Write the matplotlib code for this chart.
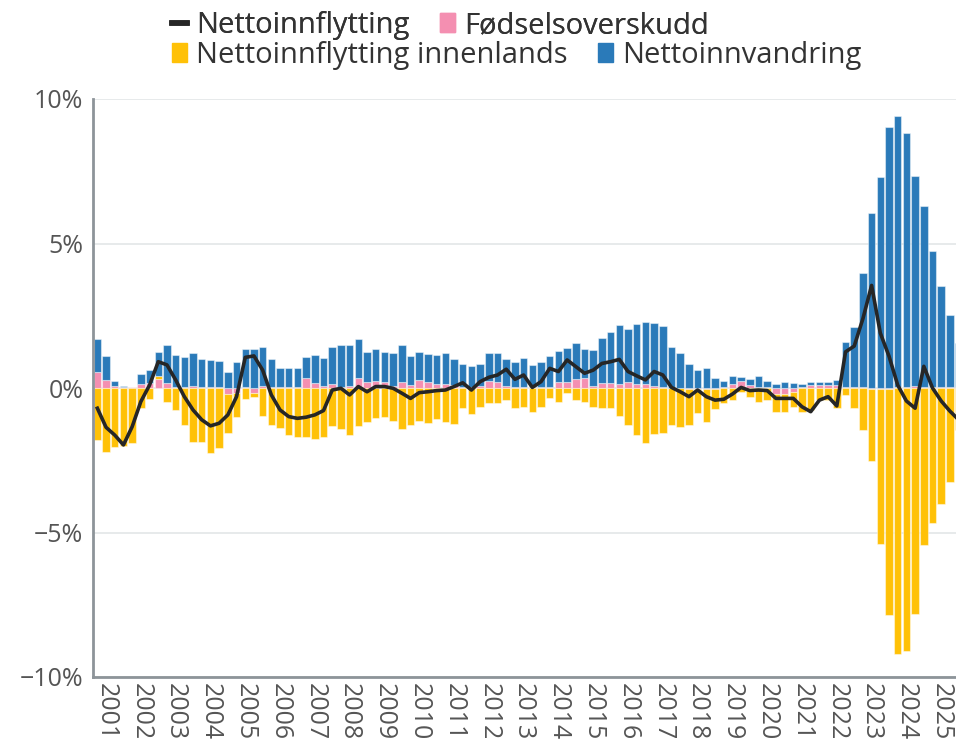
import numpy as np
import matplotlib
matplotlib.use("Agg")
import matplotlib.pyplot as plt
from matplotlib.patches import Patch
from matplotlib.lines import Line2D

plt.rcParams['font.family'] = ['Open Sans', 'DejaVu Sans']

# quarterly values, %
years = list(range(2001, 2026))

fodselsoverskudd = [
    0.57, 0.28, 0.07, 0.05, 0.04, 0.14, 0.16, 0.30, 0.16, 0.05,
    0.05, 0.07, 0.05, 0.05, 0.05, -0.20, -0.18, 0.04, -0.18, 0.07,
    0.05, 0.05, 0.05, 0.05, 0.33, 0.18, 0.08, 0.14, 0.05, 0.07,
    0.33, 0.22, 0.25, 0.22, 0.07, 0.20, 0.10, 0.28, 0.20, 0.14,
    0.14, 0.10, 0.04, 0.04, 0.06, 0.25, 0.22, 0.06, 0.04, 0.02,
    0.02, 0.02, 0.05, 0.22, 0.22, 0.31, 0.33, 0.07, 0.16, 0.18,
    0.14, 0.22, 0.14, 0.14, 0.07, 0.02, 0.01, 0.01, -0.05, -0.05,
    -0.05, -0.03, 0.02, 0.15, 0.25, 0.10, 0.05, 0.02, -0.20, -0.20,
    -0.15, 0.02, 0.10, 0.10, 0.10, 0.10, 0.05, 0.05, 0.02, -0.05,
    -0.05, -0.05, 0.02, 0.05, 0.08, 0.05, 0.03, 0.02, 0.02, 0.02,
]

innenlands = [
    -1.80, -2.20, -2.05, -2.00, -1.90, -0.70, -0.38, 0.12, -0.50, -0.76,
    -1.28, -1.86, -1.86, -2.24, -2.09, -1.37, -0.82, -0.38, -0.14, -0.97,
    -1.28, -1.40, -1.63, -1.71, -1.71, -1.76, -1.71, -1.31, -1.42, -1.63,
    -1.31, -1.16, -1.05, -0.99, -1.14, -1.42, -1.28, -1.13, -1.22, -1.08,
    -1.16, -1.25, -0.70, -0.90, -0.65, -0.53, -0.53, -0.42, -0.70, -0.65,
    -0.82, -0.65, -0.36, -0.47, -0.16, -0.42, -0.47, -0.67, -0.70, -0.70,
    -0.97, -1.28, -1.63, -1.91, -1.59, -1.57, -1.28, -1.34, -1.22, -0.82,
    -1.13, -0.70, -0.53, -0.42, -0.13, -0.30, -0.47, -0.42, -0.62, -0.62,
    -0.50, -0.82, -0.76, -0.42, -0.42, -0.70, -0.24, -0.70, -1.45, -2.48,
    -5.35, -7.80, -9.22, -9.11, -7.83, -5.42, -4.68, -4.01, -3.26, -1.45,
]

innvandring = [
    1.11, 0.83, 0.17, 0.02, 0.01, 0.34, 0.46, 0.81, 1.33, 1.08,
    1.03, 1.13, 0.96, 0.92, 0.88, 0.54, 0.89, 1.30, 1.34, 1.34,
    0.94, 0.63, 0.63, 0.63, 0.73, 0.96, 0.95, 1.29, 1.43, 1.42,
    1.35, 1.01, 1.09, 1.01, 1.13, 1.28, 1.01, 0.98, 0.96, 1.00,
    1.06, 0.89, 0.79, 0.72, 0.77, 0.95, 0.98, 0.94, 0.85, 1.01,
    0.78, 0.89, 1.06, 1.07, 1.18, 1.24, 1.02, 1.24, 1.58, 1.77,
    2.03, 1.81, 2.07, 2.16, 2.17, 2.13, 1.40, 1.19, 0.82, 0.62,
    0.68, 0.33, 0.22, 0.27, 0.12, 0.20, 0.37, 0.22, 0.14, 0.20,
    0.16, 0.12, 0.12, 0.12, 0.12, 0.18, 1.55, 2.07, 3.95, 6.04,
    7.29, 9.02, 9.40, 8.76, 7.26, 6.25, 4.72, 3.51, 2.51, 1.53,
]

nettoinnflytting = [
    -0.70, -1.36, -1.63, -1.97, -1.34, -0.47, 0.10, 0.91, 0.80, 0.28,
    -0.30, -0.76, -1.10, -1.31, -1.22, -0.93, -0.30, 1.06, 1.11, 0.62,
    -0.24, -0.76, -0.99, -1.05, -1.01, -0.93, -0.78, -0.07, -0.01, -0.24,
    0.05, -0.13, 0.05, 0.05, -0.01, -0.18, -0.36, -0.16, -0.13, -0.09,
    -0.07, 0.05, 0.18, -0.07, 0.22, 0.37, 0.45, 0.65, 0.30, 0.45,
    0.02, 0.22, 0.68, 0.57, 0.97, 0.74, 0.51, 0.62, 0.85, 0.91,
    0.99, 0.57, 0.42, 0.28, 0.57, 0.45, 0.02, -0.13, -0.30, -0.07,
    -0.30, -0.42, -0.39, -0.21, 0.02, -0.09, -0.07, -0.09, -0.36, -0.36,
    -0.36, -0.65, -0.82, -0.42, -0.30, -0.62, 1.25, 1.45, 2.40, 3.55,
    1.90, 1.10, 0.10, -0.45, -0.70, 0.75, 0.00, -0.45, -0.80, -1.10,
]

c_pink = '#f48fb1'
c_yellow = '#ffc107'
c_blue = '#2a7ab9'
c_line = '#262626'

x = np.arange(len(innvandring))
pink = np.array(fodselsoverskudd)
yel = np.array(innenlands)
blue = np.array(innvandring)

# relative stacking: positives up, negatives down
pink_pos = np.clip(pink, 0, None)
yel_pos = np.clip(yel, 0, None)
yel_bottom = np.where(yel >= 0, pink_pos, np.clip(pink, None, 0))
blue_bottom = pink_pos + yel_pos

fig = plt.figure(figsize=(9.56, 7.54), dpi=100)
ax = fig.add_axes([93/956, 77/754, 1 - 93/956, (677 - 99)/754])

w = 0.86
edge = (1, 1, 1, 0.45)
ax.bar(x, pink, width=w, color=c_pink, edgecolor=edge, linewidth=0.8, zorder=2)
ax.bar(x, yel, width=w, bottom=yel_bottom, color=c_yellow, edgecolor=edge, linewidth=0.8, zorder=2)
ax.bar(x, blue, width=w, bottom=blue_bottom, color=c_blue, edgecolor=edge, linewidth=0.8, zorder=2)
ax.plot(x, nettoinnflytting, color=c_line, lw=2.6, zorder=4, solid_joinstyle='round')

ax.set_xlim(-0.5, 98.7)
ax.set_ylim(-10, 10)
ax.set_yticks([-10, -5, 0, 5, 10])
ax.set_yticklabels(['\u221210%', '\u22125%', '0%', '5%', '10%'])
ax.set_xticks([4 * k + 1 for k in range(len(years))])
ax.set_xticklabels([str(y) for y in years], rotation=270, ha='center', va='top')
ax.tick_params(axis='y', length=0, pad=7, labelsize=18, labelcolor='#555555')
ax.tick_params(axis='x', length=0, pad=4, labelsize=18, labelcolor='#555555')
ax.grid(axis='y', color='#e3e6e8', lw=1.2, zorder=0)
ax.set_axisbelow(True)
for s in ['top', 'right']:
    ax.spines[s].set_visible(False)
for s in ['left', 'bottom']:
    ax.spines[s].set_color('#8d9499')
    ax.spines[s].set_linewidth(2)

# legend, two rows
h_line = Line2D([], [], color=c_line, lw=4)
h_pink = Patch(color=c_pink)
h_yel = Patch(color=c_yellow)
h_blue = Patch(color=c_blue)
kw = dict(loc='upper left', ncol=2, frameon=False, fontsize=21, handlelength=0.52,
          handleheight=0.6, handletextpad=0.3, columnspacing=1.05, borderpad=0,
          borderaxespad=0, labelcolor='#333333')
leg1 = fig.legend([h_line, h_pink], ['Nettoinnflytting', 'Fødselsoverskudd'],
                  bbox_to_anchor=(172/956, 1 - 11/754), **kw)
fig.add_artist(leg1)
fig.legend([h_yel, h_blue], ['Nettoinnflytting innenlands', 'Nettoinnvandring'],
           bbox_to_anchor=(172/956, 1 - 41/754), **kw)

fig.savefig('out.png', dpi=100)
